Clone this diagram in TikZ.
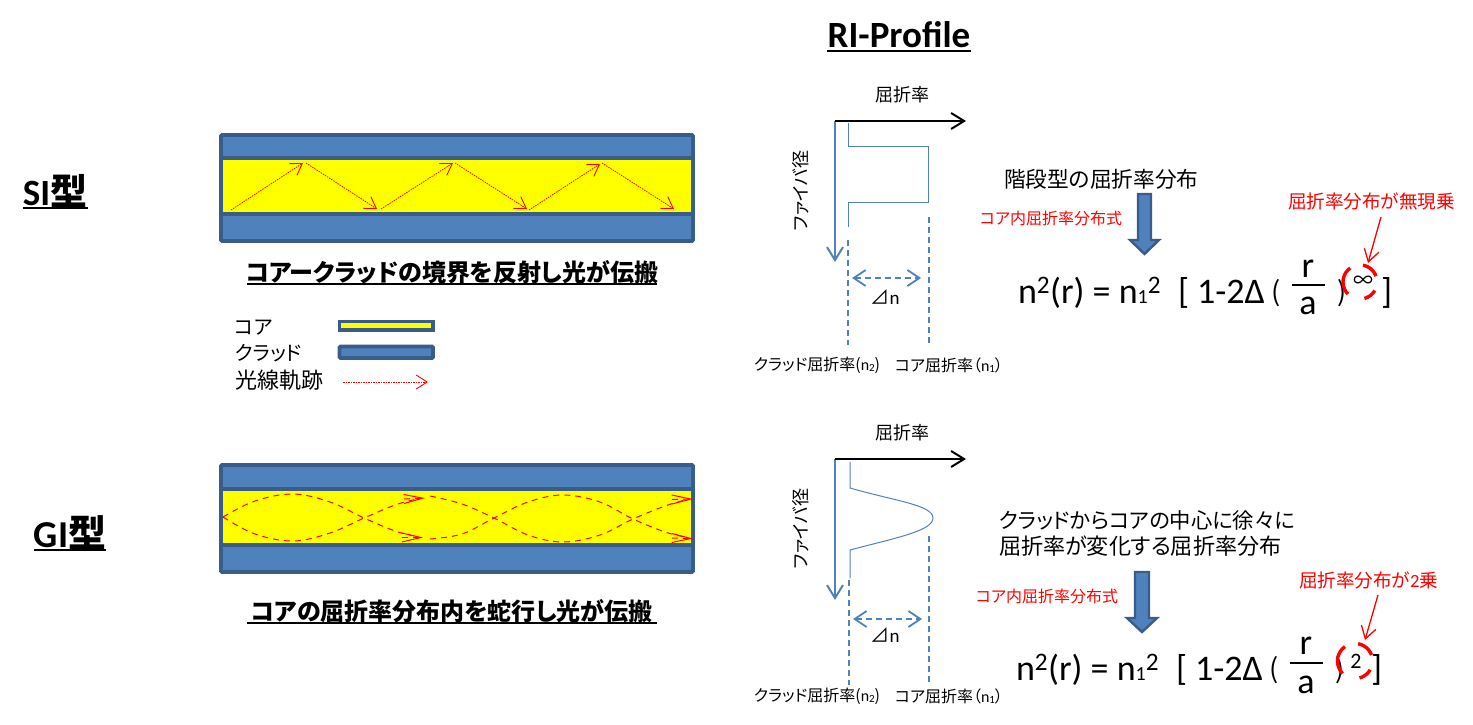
\documentclass[tikz,border=0pt]{standalone}
\usepackage{fontspec}
\setmainfont{Noto Sans CJK JP}[RawFeature=+palt]
\newfontfamily\lat{Carlito}
\usetikzlibrary{arrows.meta}
\definecolor{cladfill}{HTML}{4F81BD}
\definecolor{cladline}{HTML}{385D8A}
\definecolor{coreyel}{HTML}{FFFF00}
\newcommand{\fsz}[1]{\fontsize{#1}{#1}\selectfont}
\newcommand{\sbs}[1]{{\fsz{11}\raisebox{-1pt}{#1}}}
\newcommand{\sbb}[1]{{\fsz{20}#1}}
\tikzset{
  txt/.style={inner sep=0pt,outer sep=0pt,text=black},
  clad/.style={draw=cladline,fill=cladfill,line width=3.8pt,rounded corners=1pt},
  core/.style={draw=cladline,fill=coreyel,line width=3.8pt},
  raydot/.style={draw=red,line width=0.8pt,dash pattern=on 1.5pt off 1pt,-{Straight Barb[length=11pt,width=14pt,line width=0.9pt]}},
  raydash/.style={draw=red,line width=1pt,dash pattern=on 6pt off 5pt},
  raytip/.style={draw=red,line width=1pt,dash pattern=on 6pt off 5pt,-{Straight Barb[length=19pt,width=9pt,line width=1pt]}},
  axisk/.style={draw=black,line width=2pt,-{Straight Barb[length=13pt,width=16pt,line width=2pt]}},
  axisb/.style={draw=cladfill,line width=2pt,-{Straight Barb[length=13pt,width=16pt,line width=2pt]}},
  prof/.style={draw=cladfill,line width=1pt},
  guide/.style={draw=cladfill,line width=1.8pt,dash pattern=on 6pt off 4pt},
  delta/.style={draw=cladfill,line width=1.8pt,dash pattern=on 6pt off 4pt,{Straight Barb[length=12pt,width=16pt,line width=1.8pt]}-{Straight Barb[length=12pt,width=16pt,line width=1.8pt]}},
  blockarrow/.style={draw=cladline,fill=cladfill,line width=2.4pt,miter limit=4},
  redmark/.style={draw=red,line width=3.4pt},
  redpoint/.style={draw=red,line width=1.3pt,-{Straight Barb[length=12pt,width=15pt,line width=1.3pt]}},
  ul/.style={draw=black,line width=1.5pt}
}
\newcommand{\fibre}[4]{%
  \draw[clad] (221,#1) rectangle (693,#2);
  \draw[clad] (221,#3) rectangle (693,#4);
  \draw[core] (221,#2) rectangle (693,#3);
}
\begin{document}
\begin{tikzpicture}[x=1pt,y=-1pt]
\useasboundingbox (0,0) rectangle (1473,725);
% titles
\node[txt,font=\lat\bfseries\fsz{37}] (rititle) at (899,35) {RI-Profile};
\draw[ul,line width=2pt] (827,51) -- (971,51);
\node[txt,font=\bfseries\fsz{37}] (si) at (55,191) {{\lat SI}型};
\draw[ul,line width=2pt] (23,208) -- (88,208);
\node[txt,font=\bfseries\fsz{38}] (gi) at (70,533) {{\lat GI}型};
\draw[ul,line width=2pt] (34,550) -- (106,550);
% SI fibre
\fibre{135}{158}{214}{241}
\draw[raydot] (231,210) -- (303,163);
\draw[raydot] (306,163) -- (377,209);
\draw[raydot] (381,209) -- (453,163);
\draw[raydot] (455,163) -- (527,209);
\draw[raydot] (529,210) -- (600,164);
\draw[raydot] (602,163) -- (674,209);
\node[txt,font=\bfseries\fsz{24}] (sicap) at (452,272) {コアークラッドの境界を反射し光が伝搬};
\draw[ul] (247,284) -- (657,284);
% legend
\node[txt,anchor=west,font=\fsz{20}] (lg1) at (235,328) {コア};
\node[txt,anchor=west,font=\fsz{20}] (lg2) at (235,353) {クラッド};
\node[txt,anchor=west,font=\fsz{22}] (lg3) at (235,380) {光線軌跡};
\draw[core] (339.5,321.5) rectangle (433,330);
\draw[clad] (339.5,346.5) rectangle (433,358);
\draw[raydot] (343,382) -- (428,382);
% GI fibre
\fibre{465}{489}{545}{572}
\draw[raydash] plot[smooth,tension=0.6] coordinates {(223,517) (255,501) (293,494) (330,502) (364,518) (395,531) (415,536)};
\draw[raydash] plot[smooth,tension=0.6] coordinates {(223,517) (255,534) (293,541) (330,533) (364,518) (395,505) (415,499.5)};
\draw[raydash] plot[smooth,tension=0.6] coordinates {(430,496) (462,504) (494,518) (528,535) (563,542) (600,535) (633,519) (665,506) (685,500)};
\draw[raydash] plot[smooth,tension=0.6] coordinates {(430,539) (462,534) (494,518) (528,502) (563,495) (600,502) (633,519) (665,532) (685,537)};
\draw[raytip] (402,537.5) -- (423,537.5);
\draw[raytip] (404,499) -- (425,498);
\draw[raytip] (672,499.5) -- (693,499);
\draw[raytip] (672,538) -- (693,538.5);
\node[txt,font=\bfseries\fsz{24}] (gicap) at (452,611) {コアの屈折率分布内を蛇行し光が伝搬};
\draw[ul] (247,623) -- (657,623);
% SI profile
\node[txt,font=\fsz{18}] (ax1) at (902,95) {屈折率};
\coordinate (o1) at (835,121);
\coordinate (xe1) at (966,121);
\coordinate (ye1) at (835,262);
\draw[axisb] (o1) -- (ye1);
\draw[axisk] (o1) -- (xe1);
\node[txt,rotate=90,font=\fsz{18}] (fd1) at (801,191) {ファイバ径};
\draw[prof] (848,123) -- (848,146) -- (928,146) -- (928,202) -- (848,202) -- (848,227);
\draw[guide] (848,240) -- (848,345);
\draw[guide] (929,217) -- (929,345);
\draw[delta] (852,278) -- (921,278);
\node[txt,font=\fsz{19}] (dn1) at (885,297) {⊿{\lat n}};
\node[txt,font=\fsz{16}] (cl1) at (817,365) {クラッド屈折率({\lat n\sbs{2}})};
\node[txt,font=\fsz{16}] (co1) at (949,365) {コア屈折率（{\lat n\sbs{1}}）};
% GI profile
\node[txt,font=\fsz{18}] (ax2) at (902,433) {屈折率};
\coordinate (o2) at (835,459);
\coordinate (xe2) at (966,459);
\coordinate (ye2) at (835,600);
\draw[axisb] (o2) -- (ye2);
\draw[axisk] (o2) -- (xe2);
\node[txt,rotate=90,font=\fsz{18}] (fd2) at (801,529) {ファイバ径};
\draw[prof] (850,462) -- (850,488) .. controls (895,501) and (933,505) .. (933,518) .. controls (933,531) and (895,538) .. (850,550) -- (850,578);
\draw[guide] (849,580) -- (849,685);
\draw[guide] (929,536) -- (929,685);
\draw[delta] (853,619) -- (922,619);
\node[txt,font=\fsz{19}] (dn2) at (885,635) {⊿{\lat n}};
\node[txt,font=\fsz{16}] (cl2) at (817,696) {クラッド屈折率({\lat n\sbs{2}})};
\node[txt,font=\fsz{16}] (co2) at (949,696) {コア屈折率（{\lat n\sbs{1}}）};
% SI right
\node[txt,anchor=west,font=\fsz{21.7}] (d1) at (1004,179) {階段型の屈折率分布};
\node[txt,anchor=west,font=\fsz{16},text=red] (r1) at (980,218) {コア内屈折率分布式};
\node[txt,anchor=west,font=\fsz{18.6},text=red] (r2) at (1288,201) {屈折率分布が無現乗};
\draw[blockarrow] (1138,194) -- (1151,194) -- (1151,240) -- (1159,240) -- (1144.5,254) -- (1130,240) -- (1138,240) -- cycle;
\coordinate (p1a) at (1381,217);
\coordinate (p1b) at (1368,263);
\draw[redpoint] (p1a) -- (p1b);
\node[txt,anchor=base west,font=\lat\fsz{36}] (f1) at (1018,303) {n\textsuperscript{2}(r) = n\sbb{1}\textsuperscript{2}};
\node[txt,anchor=base west,font=\lat\fsz{36}] (f1g) at (1178,303) {[};
\node[txt,anchor=base west,font=\lat\fsz{36}] (f1b) at (1197,303) {1-2Δ};
\node[txt,anchor=base west,font=\fsz{27}] (f1c) at (1271,301) {(};
\node[txt,font=\lat\fsz{36}] (f1r) at (1308,269) {r};
\draw[ul,line width=1.5pt] (1292,285) -- (1325,285);
\node[txt,font=\lat\fsz{36}] (f1a) at (1308,306) {a};
\node[txt,anchor=base west,font=\fsz{27}] (f1d) at (1337,301) {)};
\node[txt,font=\fsz{20}] (f1e) at (1363,282) {∞};
\node[txt,anchor=base west,font=\lat\fsz{36}] (f1f) at (1381,303) {]};
\foreach \s/\e in {125/225,20/80,-75/-30}{
  \draw[redmark] plot[domain=\s:\e,samples=16] ({1360+17*cos(\x)},{282-17*sin(\x)});
}
% GI right
\node[txt,anchor=west,font=\fsz{21.3}] (d2) at (999,520) {クラッドからコアの中心に徐々に};
\node[txt,anchor=west,font=\fsz{22.1}] (d3) at (999,546) {屈折率が変化する屈折率分布};
\node[txt,anchor=west,font=\fsz{16},text=red] (r3) at (976,596) {コア内屈折率分布式};
\node[txt,anchor=west,font=\fsz{18.6},text=red] (r4) at (1299,580) {屈折率分布が{\lat 2}乗};
\draw[blockarrow] (1135,572) -- (1149,572) -- (1149,618) -- (1157,618) -- (1142,632) -- (1127,618) -- (1135,618) -- cycle;
\coordinate (p2a) at (1378,595);
\coordinate (p2b) at (1365,640);
\draw[redpoint] (p2a) -- (p2b);
\node[txt,anchor=base west,font=\lat\fsz{36}] (f2) at (1016,680) {n\textsuperscript{2}(r) = n\sbb{1}\textsuperscript{2}};
\node[txt,anchor=base west,font=\lat\fsz{36}] (f2g) at (1176,680) {[};
\node[txt,anchor=base west,font=\lat\fsz{36}] (f2b) at (1195,680) {1-2Δ};
\node[txt,anchor=base west,font=\fsz{27}] (f2c) at (1269,678) {(};
\node[txt,font=\lat\fsz{36}] (f2r) at (1306,646) {r};
\draw[ul,line width=1.5pt] (1290,663) -- (1323,663);
\node[txt,font=\lat\fsz{36}] (f2a) at (1306,685) {a};
\node[txt,anchor=base west,font=\fsz{27}] (f2d) at (1335,678) {)};
\node[txt,font=\lat\fsz{22}] (f2e) at (1356,661) {2};
\node[txt,anchor=base west,font=\lat\fsz{36}] (f2f) at (1371,680) {]};
\foreach \s/\e in {125/225,20/80,-75/-30}{
  \draw[redmark] plot[domain=\s:\e,samples=16] ({1355+17.5*cos(\x)},{661-17.5*sin(\x)});
}
\end{tikzpicture}
\end{document}
